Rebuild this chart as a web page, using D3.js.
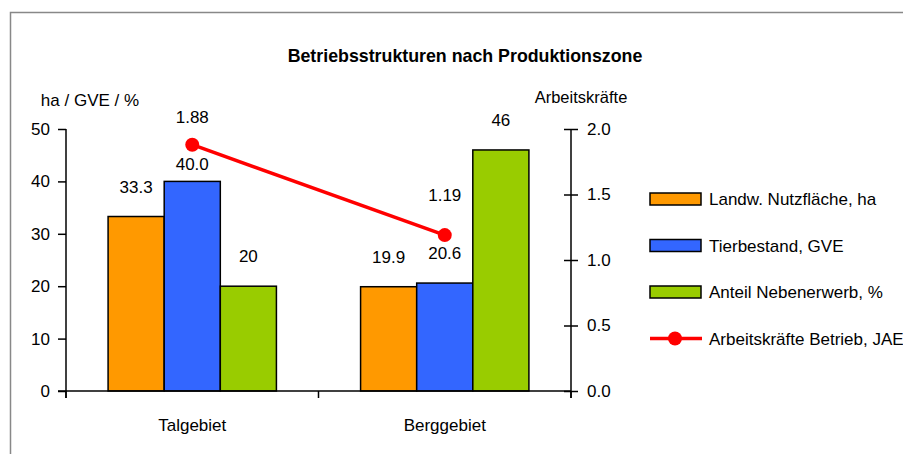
<!DOCTYPE html>
<html>
<head>
<meta charset="utf-8">
<script src="https://cdn.jsdelivr.net/npm/d3@7"></script>
<style>
  html, body { margin: 0; padding: 0; background: #fff; }
  svg text { font-family: "Liberation Sans", Arial, sans-serif; fill: #000; }
</style>
</head>
<body>
<svg id="chart" width="903" height="454"></svg>
<script>
// ---- data ----
const categories = ["Talgebiet", "Berggebiet"];
const seriesNames = ["Landw. Nutzfläche, ha", "Tierbestand, GVE", "Anteil Nebenerwerb, %"];
const nutzflaeche = [33.3, 19.9];
const tierbestand = [40.0, 20.6];
const nebenerwerb = [20, 46];
const barLabels = [["33.3", "19.9"], ["40.0", "20.6"], ["20", "46"]];
const lineName = "Arbeitskräfte Betrieb, JAE";
const arbeitskraefte = [1.88, 1.19];
const lineLabels = ["1.88", "1.19"];
const leftTicks = [0, 10, 20, 30, 40, 50];
const rightTicks = [0, 0.5, 1.0, 1.5, 2.0];
const title = "Betriebsstrukturen nach Produktionszone";
const leftTitle = "ha / GVE / %";
const rightTitle = "Arbeitskräfte";

// ---- layout ----
const colors = ["#FF9900", "#3366FF", "#99CC00"];
const lineColor = "#FF0000";
const X0 = 66, X1 = 571, Y0 = 391, Y1 = 129;
const svg = d3.select("#chart");

// frame
svg.append("rect").attr("x", 10.5).attr("y", 12.5).attr("width", 1000).attr("height", 1000)
  .attr("fill", "none").attr("stroke", "#888").attr("stroke-width", 1.5);

const x = d3.scaleBand().domain(categories).range([X0, X1]).padding(0);
const bw = x.bandwidth();
const xs = d3.scaleBand().domain(seriesNames).range([bw / 6, bw * 5 / 6]).padding(0);
const yL = d3.scaleLinear().domain([0, 50]).range([Y0, Y1]);
const yR = d3.scaleLinear().domain([0, 2]).range([Y0, Y1]);

const seriesValues = [nutzflaeche, tierbestand, nebenerwerb];

// title
svg.append("text").attr("x", 465).attr("y", 62).attr("text-anchor", "middle")
  .attr("font-size", 17.8).attr("font-weight", "bold").text(title);
svg.append("text").attr("x", 90).attr("y", 106).attr("text-anchor", "middle")
  .attr("font-size", 17).text(leftTitle);
svg.append("text").attr("x", 581).attr("y", 103).attr("text-anchor", "middle")
  .attr("font-size", 16.5).text(rightTitle);

// bars
seriesValues.forEach((vals, si) => {
  svg.append("g").selectAll("rect").data(vals).join("rect")
    .attr("x", (d, i) => x(categories[i]) + xs(seriesNames[si]))
    .attr("y", d => yL(d))
    .attr("width", xs.bandwidth())
    .attr("height", d => Y0 - yL(d))
    .attr("fill", colors[si]).attr("stroke", "#000").attr("stroke-width", 1.5);
});

// axes
const gL = svg.append("g").attr("transform", `translate(${X0},0)`)
  .call(d3.axisLeft(yL).tickValues(leftTicks).tickFormat(d3.format("d")).tickSize(8).tickSizeOuter(0).tickPadding(8));
const gR = svg.append("g").attr("transform", `translate(${X1},0)`)
  .call(d3.axisRight(yR).tickValues(rightTicks).tickFormat(d3.format(".1f")).tickSize(7).tickSizeOuter(0).tickPadding(9));
gR.selectAll(".tick line").attr("x1", -7);
[gL, gR].forEach(g => {
  g.select(".domain").remove();
  g.selectAll(".tick line").attr("stroke", "#000").attr("stroke-width", 1.5);
  g.selectAll(".tick text").attr("font-size", 17).attr("font-family", "Liberation Sans, Arial, sans-serif").attr("fill", "#000");
});
// vertical axis lines
[X0, X1].forEach(xx => {
  svg.append("line").attr("x1", xx).attr("x2", xx).attr("y1", Y1).attr("y2", Y0 + 7)
    .attr("stroke", "#000").attr("stroke-width", 1.5);
});
// category axis
const gX = svg.append("g").attr("transform", `translate(0,${Y0})`)
  .call(d3.axisBottom(x).tickSize(0).tickSizeOuter(0).tickPadding(28));
gX.select(".domain").remove();
gX.selectAll(".tick text").attr("font-size", 17).attr("font-family", "Liberation Sans, Arial, sans-serif").attr("fill", "#000");
svg.append("line").attr("x1", X0 - 8).attr("x2", X1).attr("y1", Y0).attr("y2", Y0)
  .attr("stroke", "#000").attr("stroke-width", 1.5);
const bounds = [X0, ...categories.slice(1).map(c => x(c)), X1];
svg.append("g").selectAll("line").data(bounds).join("line")
  .attr("x1", d => d).attr("x2", d => d).attr("y1", Y0).attr("y2", Y0 + 7)
  .attr("stroke", "#000").attr("stroke-width", 1.5);

// line series
const cx = i => x(categories[i]) + bw / 2;
const lineGen = d3.line().x((d, i) => cx(i)).y(d => yR(d));
svg.append("path").datum(arbeitskraefte).attr("d", lineGen)
  .attr("fill", "none").attr("stroke", lineColor).attr("stroke-width", 3.5);
svg.append("g").selectAll("circle").data(arbeitskraefte).join("circle")
  .attr("cx", (d, i) => cx(i)).attr("cy", d => yR(d)).attr("r", 7).attr("fill", lineColor);

// bar labels
seriesValues.forEach((vals, si) => {
  vals.forEach((v, i) => {
    const bx = x(categories[i]) + xs(seriesNames[si]) + xs.bandwidth() / 2;
    let cy = yL(v) - 30;
    const my = yR(arbeitskraefte[i]);
    if (Math.abs(bx - cx(i)) < xs.bandwidth() / 2 && Math.abs(cy - my) < 14) cy = my + 19;
    svg.append("text").attr("x", bx).attr("y", cy + 6).attr("text-anchor", "middle")
      .attr("font-size", 17).text(barLabels[si][i]);
  });
});
// line labels
const lineLabelDy = [-28, -40];
arbeitskraefte.forEach((v, i) => {
  svg.append("text").attr("x", cx(i)).attr("y", yR(v) + lineLabelDy[i] + 6).attr("text-anchor", "middle")
    .attr("font-size", 17).text(lineLabels[i]);
});

// legend
const legY = 199, legStep = 46.5;
seriesNames.forEach((n, i) => {
  const yy = legY + i * legStep;
  svg.append("rect").attr("x", 650).attr("y", yy - 6).attr("width", 51).attr("height", 12)
    .attr("fill", colors[i]).attr("stroke", "#000").attr("stroke-width", 1.5);
  svg.append("text").attr("x", 709).attr("y", yy + 6).attr("font-size", 17).text(n);
});
const ly = legY + 3 * legStep;
svg.append("line").attr("x1", 650).attr("x2", 702).attr("y1", ly).attr("y2", ly)
  .attr("stroke", lineColor).attr("stroke-width", 3.5);
svg.append("circle").attr("cx", 675).attr("cy", ly).attr("r", 7).attr("fill", lineColor);
svg.append("text").attr("x", 709).attr("y", ly + 6).attr("font-size", 17).text(lineName);
</script>
</body>
</html>
